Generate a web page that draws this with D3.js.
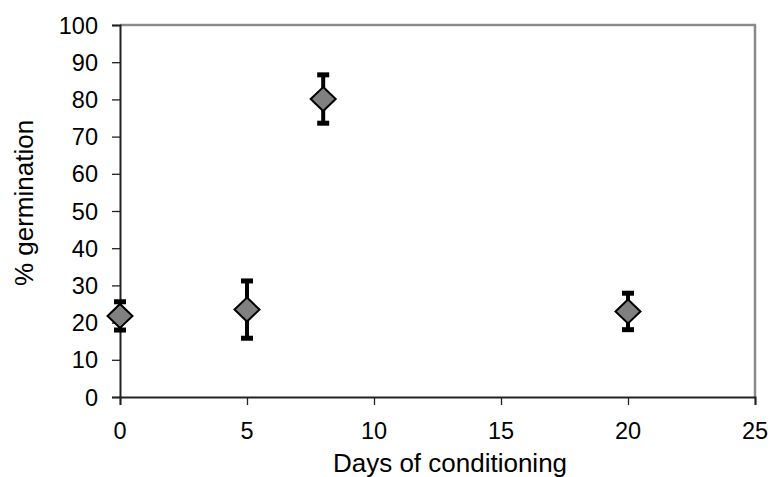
<!DOCTYPE html>
<html>
<head>
<meta charset="utf-8">
<script src="https://cdn.jsdelivr.net/npm/d3@7"></script>
<style>
  body { margin: 0; background: #fff; }
  text { font-family: "Liberation Sans", Arial, sans-serif; fill: #000; }
</style>
</head>
<body>
<div id="chart"></div>
<script>
const days = [0, 5, 8, 20];
const germination = [21.8, 23.5, 80.1, 23.0];
const errors = [3.8, 7.7, 6.5, 4.9];
const xTicks = [0, 5, 10, 15, 20, 25];
const yTicks = [0, 10, 20, 30, 40, 50, 60, 70, 80, 90, 100];

const W = 770, H = 477;
const tickFont = 23.5;
const titleFont = 26;

const svg = d3.select("#chart").append("svg")
  .attr("width", W).attr("height", H);

const x = d3.scaleLinear().domain([0, 25]).range([120, 755]);
const y = d3.scaleLinear().domain([0, 100]).range([397, 25]);

// top + right frame (gray)
svg.append("path")
  .attr("d", `M${x(0)},${y(100)}H${x(25)}V${y(0)}`)
  .attr("fill", "none").attr("stroke", "#8a8a8a").attr("stroke-width", 2.5);

// axes
const yAxis = svg.append("g")
  .attr("transform", `translate(${x(0)},0)`)
  .call(d3.axisLeft(y).tickValues(yTicks).tickSize(8).tickFormat(""));
const xAxis = svg.append("g")
  .attr("transform", `translate(0,${y(0)})`)
  .call(d3.axisBottom(x).tickValues(xTicks).tickSize(8).tickFormat(""));
[yAxis, xAxis].forEach(g => {
  g.select(".domain").attr("stroke", "#222").attr("stroke-width", 2);
  g.selectAll(".tick line").attr("stroke", "#222").attr("stroke-width", 1.3);
});

// tick labels
svg.append("g").selectAll("text")
  .data(yTicks).enter().append("text")
  .attr("x", 98).attr("y", d => y(d) + 8.5)
  .attr("text-anchor", "end").attr("font-size", tickFont)
  .text(d => d);
svg.append("g").selectAll("text")
  .data(xTicks).enter().append("text")
  .attr("x", d => x(d)).attr("y", 439)
  .attr("text-anchor", "middle").attr("font-size", tickFont)
  .text(d => d);

// axis titles
svg.append("text")
  .attr("x", 450).attr("y", 472)
  .attr("text-anchor", "middle")
  .attr("font-size", titleFont)
  .text("Days of conditioning");

svg.append("text")
  .attr("transform", `translate(33,${(y(0) + y(100)) / 2 - 8}) rotate(-90)`)
  .attr("text-anchor", "middle")
  .attr("font-size", titleFont)
  .text("% germination");

// error bars
const pts = days.map((d, i) => ({ d, v: germination[i], e: errors[i] }));
const eb = svg.append("g").attr("stroke", "#000").attr("stroke-width", 4);
pts.forEach(p => {
  const cx = x(p.d);
  eb.append("line").attr("x1", cx).attr("x2", cx)
    .attr("y1", y(p.v + p.e)).attr("y2", y(p.v - p.e));
  [p.v + p.e, p.v - p.e].forEach(v => {
    eb.append("line").attr("x1", cx - 6).attr("x2", cx + 6)
      .attr("y1", y(v)).attr("y2", y(v)).attr("stroke-width", 5);
  });
});

// diamond markers
svg.append("g").selectAll("path")
  .data(pts).enter().append("path")
  .attr("d", p => {
    const cx = x(p.d), cy = y(p.v), hw = 12.5, hh = 12;
    return `M${cx},${cy - hh}L${cx + hw},${cy}L${cx},${cy + hh}L${cx - hw},${cy}Z`;
  })
  .attr("fill", "#808080").attr("stroke", "#000").attr("stroke-width", 2);
</script>
</body>
</html>
